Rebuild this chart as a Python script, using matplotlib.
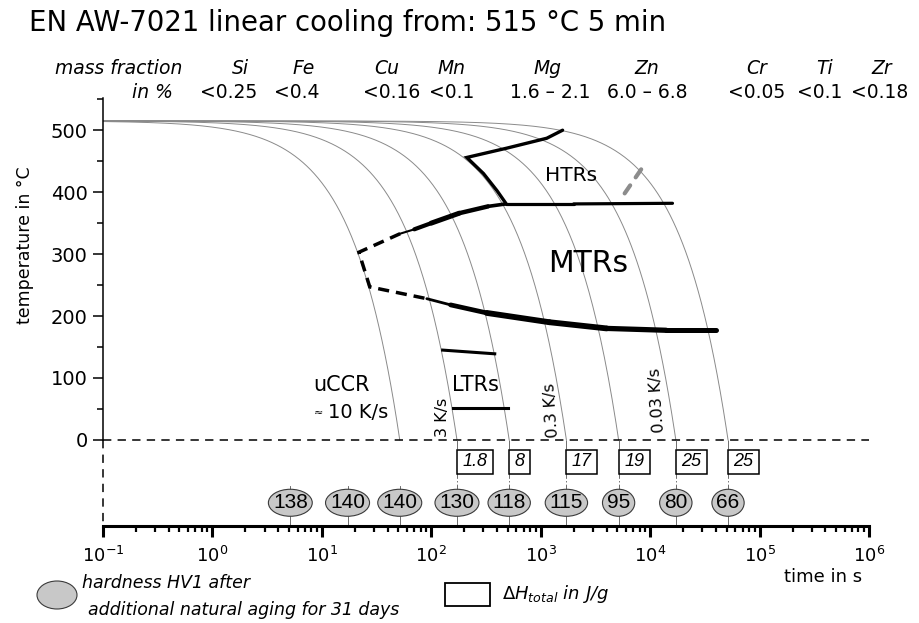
import numpy as np
import matplotlib.pyplot as plt
from matplotlib.patches import Ellipse, Rectangle
from matplotlib.transforms import ScaledTranslation
from matplotlib.ticker import LogLocator, NullFormatter

plt.rcParams['font.family'] = ['DejaVu Sans']
plt.rcParams['lines.scale_dashes'] = False

# linear cooling from solution annealing temperature
T_START = 515
rates = [10, 3, 1, 0.3, 0.1, 0.03, 0.01]  # K/s

# hardness HV1 after 31 days natural aging
hv_rates = [100, 30, 10, 3, 1, 0.3, 0.1, 0.03, 0.01]
hv_values = [138, 140, 140, 130, 118, 115, 95, 80, 66]

# total precipitation enthalpy in J/g
dh_rates = [3, 1, 0.3, 0.1, 0.03, 0.01]
dh_values = [1.8, 8, 17, 19, 25, 25]

# reaction start / end lines: time in s, temperature in °C
htr_t = [1585, 1135, 489, 211, 300, 400, 480]
htr_T = [500, 487, 471, 456, 430, 402, 382]
mtr_start_t = [52, 70, 100, 180, 330, 480, 2000, 16000]
mtr_start_T = [333, 340, 350, 366, 377, 381, 381, 382]
mtr_end_t = [91, 150, 321, 1200, 4000, 14000, 40000]
mtr_end_T = [228, 218, 205, 190, 180, 177, 177]
mtr_link_t = [52, 21.8, 27.4, 91]
mtr_link_T = [333, 303, 247, 228]
ltr_upper_t = [127, 380]
ltr_upper_T = [145, 139]
ltr_lower_t = [157, 500]
ltr_lower_T = [52, 52]
htr_gray_t = [5850, 8520]
htr_gray_T = [398, 440]

# alloy composition
elements = ['Si', 'Fe', 'Cu', 'Mn', 'Mg', 'Zn', 'Cr', 'Ti', 'Zr']
fractions = ['<0.25', '<0.4', '<0.16', '<0.1', '1.6 – 2.1', '6.0 – 6.8',
             '<0.05', '<0.1', '<0.18']

rate_labels = ['3 K/s', '0.3 K/s', '0.03 K/s']

W, H = 919, 623
XMIN, XMAX = 0.1, 1e6
YMIN, YMAX = -139, 552


def fpos(x, y):
    # pixel position -> figure fraction
    return x / W, 1 - y / H


fig = plt.figure(figsize=(W / 100, H / 100), dpi=100)
ax = fig.add_axes([103 / W, 1 - 526 / H, 766 / W, 428 / H])
ax.set_xscale('log')
ax.set_xlim(XMIN, XMAX)
ax.set_ylim(YMIN, YMAX)

# cooling curves
for r in rates:
    t = np.geomspace(XMIN, T_START / r, 400)
    ax.plot(t, T_START - r * t, color='#8a8a8a', lw=0.7, zorder=1)

# zero line and dashed lower part of the temperature axis
ax.plot([XMIN, XMAX], [0, 0], color='black', lw=1.1, dashes=(6, 4.5), zorder=2)
ax.plot([XMIN, XMIN], [0, YMIN], color='black', lw=1.1, dashes=(6, 4.5),
        clip_on=False, zorder=2)


def thick_line(ts, Ts, widths):
    for i, w in enumerate(widths):
        ax.plot(ts[i:i + 2], Ts[i:i + 2], color='black', lw=w,
                solid_capstyle='round', zorder=4)


thick_line(mtr_start_t, mtr_start_T, [1.5, 3.0, 3.6, 3.2, 2.6, 2.3, 2.3])
thick_line(mtr_end_t, mtr_end_T, [2.0, 3.4, 4.2, 4.2, 3.8, 3.6])
ax.plot(htr_t, htr_T, color='black', lw=2.4, solid_capstyle='round',
        solid_joinstyle='miter', zorder=4)
ax.plot(mtr_link_t, mtr_link_T, color='black', lw=2.5, dashes=(8, 5),
        dash_capstyle='butt', dash_joinstyle='miter', zorder=4)
ax.plot(ltr_upper_t, ltr_upper_T, color='black', lw=2.2, zorder=4)
ax.plot(ltr_lower_t, ltr_lower_T, color='black', lw=2.2, zorder=4)
ax.plot(htr_gray_t, htr_gray_T, color='#8c8c8c', lw=3, dashes=(7, 7),
        dash_capstyle='round', zorder=4)

# drop lines to the hardness and enthalpy markers
for r in hv_rates:
    ax.plot([T_START / r] * 2, [-75, YMIN], color='#555555', lw=0.6, zorder=2)
for r in dh_rates:
    ax.plot([T_START / r] * 2, [0, -75], color='#555555', lw=0.6, ls='-.', zorder=2)

renderer = fig.canvas.get_renderer()

# hardness ellipses
for r, hv in zip(hv_rates, hv_values):
    t = T_START / r
    txt = ax.text(t, -101.5, str(hv), ha='center', va='center', fontsize=15,
                  family='Liberation Sans', zorder=6)
    w = txt.get_window_extent(renderer).width + 9
    ax.add_patch(Ellipse((0, 0), w / 100, 0.27,
                         transform=fig.dpi_scale_trans + ScaledTranslation(t, -101.5, ax.transData),
                         fc='#c8c8c8', ec='#3a3a3a', lw=0.8, zorder=5))

# enthalpy boxes
for r, dh in zip(dh_rates, dh_values):
    base = fig.dpi_scale_trans + ScaledTranslation(T_START / r, -35.5, ax.transData)
    txt = ax.text(0.055, 0, f'{dh:g}', transform=base, ha='left', va='center',
                  style='italic', fontsize=13, family='Liberation Sans', zorder=6)
    w = txt.get_window_extent(renderer).width / 100 + 0.11
    ax.add_patch(Rectangle((0, -0.12), w, 0.24, transform=base,
                           fc='white', ec='black', lw=1.1, zorder=5))

# region labels
ax.text(8.3, 89, 'uCCR', fontsize=15, va='center')
ax.text(8.4, 43, '≈', fontsize=8, va='center')
ax.text(11.3, 45, '10 K/s', fontsize=14, va='center')
ax.text(154, 89, 'LTRs', fontsize=15, va='center')
ax.text(1089, 427, 'HTRs', fontsize=14.5, va='center')
ax.text(1158, 284, 'MTRs', fontsize=21.5, va='center')
for s, t, T, rot in zip(rate_labels, [127, 1260, 11500], [37, 48, 64], [90, 94, 94]):
    ax.text(t, T, s, rotation=rot, ha='center', va='center', fontsize=11.5)

# axes styling
for s in ('top', 'right'):
    ax.spines[s].set_visible(False)
ax.spines['left'].set_bounds(0, YMAX)
ax.spines['left'].set_linewidth(1.1)
ax.spines['bottom'].set_linewidth(2.2)

ax.set_yticks(np.arange(0, 501, 100))
ax.set_yticks(np.arange(50, 551, 100), minor=True)
ax.tick_params(axis='y', which='major', length=7, width=1.1, labelsize=14, pad=4)
ax.tick_params(axis='y', which='minor', length=4.5, width=1.1)

ax.set_xticks([10.0 ** k for k in range(-1, 7)])
ax.xaxis.set_minor_locator(LogLocator(base=10, subs=np.arange(2, 10), numticks=20))
ax.xaxis.set_minor_formatter(NullFormatter())
ax.set_xlim(XMIN, XMAX)
ax.tick_params(axis='x', which='major', length=8, width=2.2, labelsize=13, pad=6)
ax.tick_params(axis='x', which='minor', length=4, width=1.6)

# axis titles
fig.text(*fpos(25, 245), 'temperature in °C', rotation=90, ha='center',
         va='center', fontsize=12.5)
fig.text(*fpos(823, 577), 'time in s', ha='center', va='center', fontsize=13)

# heading and composition
fig.text(*fpos(29, 23), 'EN AW-7021 linear cooling from: 515 °C 5 min',
         fontsize=19.8, va='center')
fig.text(*fpos(182, 68), 'mass fraction', style='italic', ha='right',
         va='center', fontsize=13.5)
fig.text(*fpos(173, 92), 'in %', style='italic', ha='right', va='center',
         fontsize=13.5)
name_x = [240, 304, 387, 452, 548, 647, 757, 825, 882]
value_x = [229, 297, 392, 452, 550, 647, 757, 820, 880]
for el, fr, xn, xv in zip(elements, fractions, name_x, value_x):
    fig.text(*fpos(xn, 68), el, style='italic', ha='center', va='center', fontsize=13.5)
    fig.text(*fpos(xv, 92), fr, ha='center', va='center', fontsize=13.5)

# legend
fig.add_artist(Ellipse(fpos(57, 595), 40 / W, 28 / H, transform=fig.transFigure,
                       fc='#c8c8c8', ec='#3a3a3a', lw=0.8))
fig.text(*fpos(82, 583), 'hardness HV1 after', style='italic', va='center',
         fontsize=12.5)
fig.text(*fpos(88, 610), 'additional natural aging for 31 days', style='italic',
         va='center', fontsize=12.5)
fig.add_artist(Rectangle(fpos(445, 606), 45 / W, 23 / H, transform=fig.transFigure,
                         fc='white', ec='black', lw=1.3))
fig.text(*fpos(502, 594), r'$\mathit{ΔH}_{\mathit{total}}$ in J/g', style='italic',
         va='center', fontsize=13)

fig.savefig('out.png', dpi=100)
